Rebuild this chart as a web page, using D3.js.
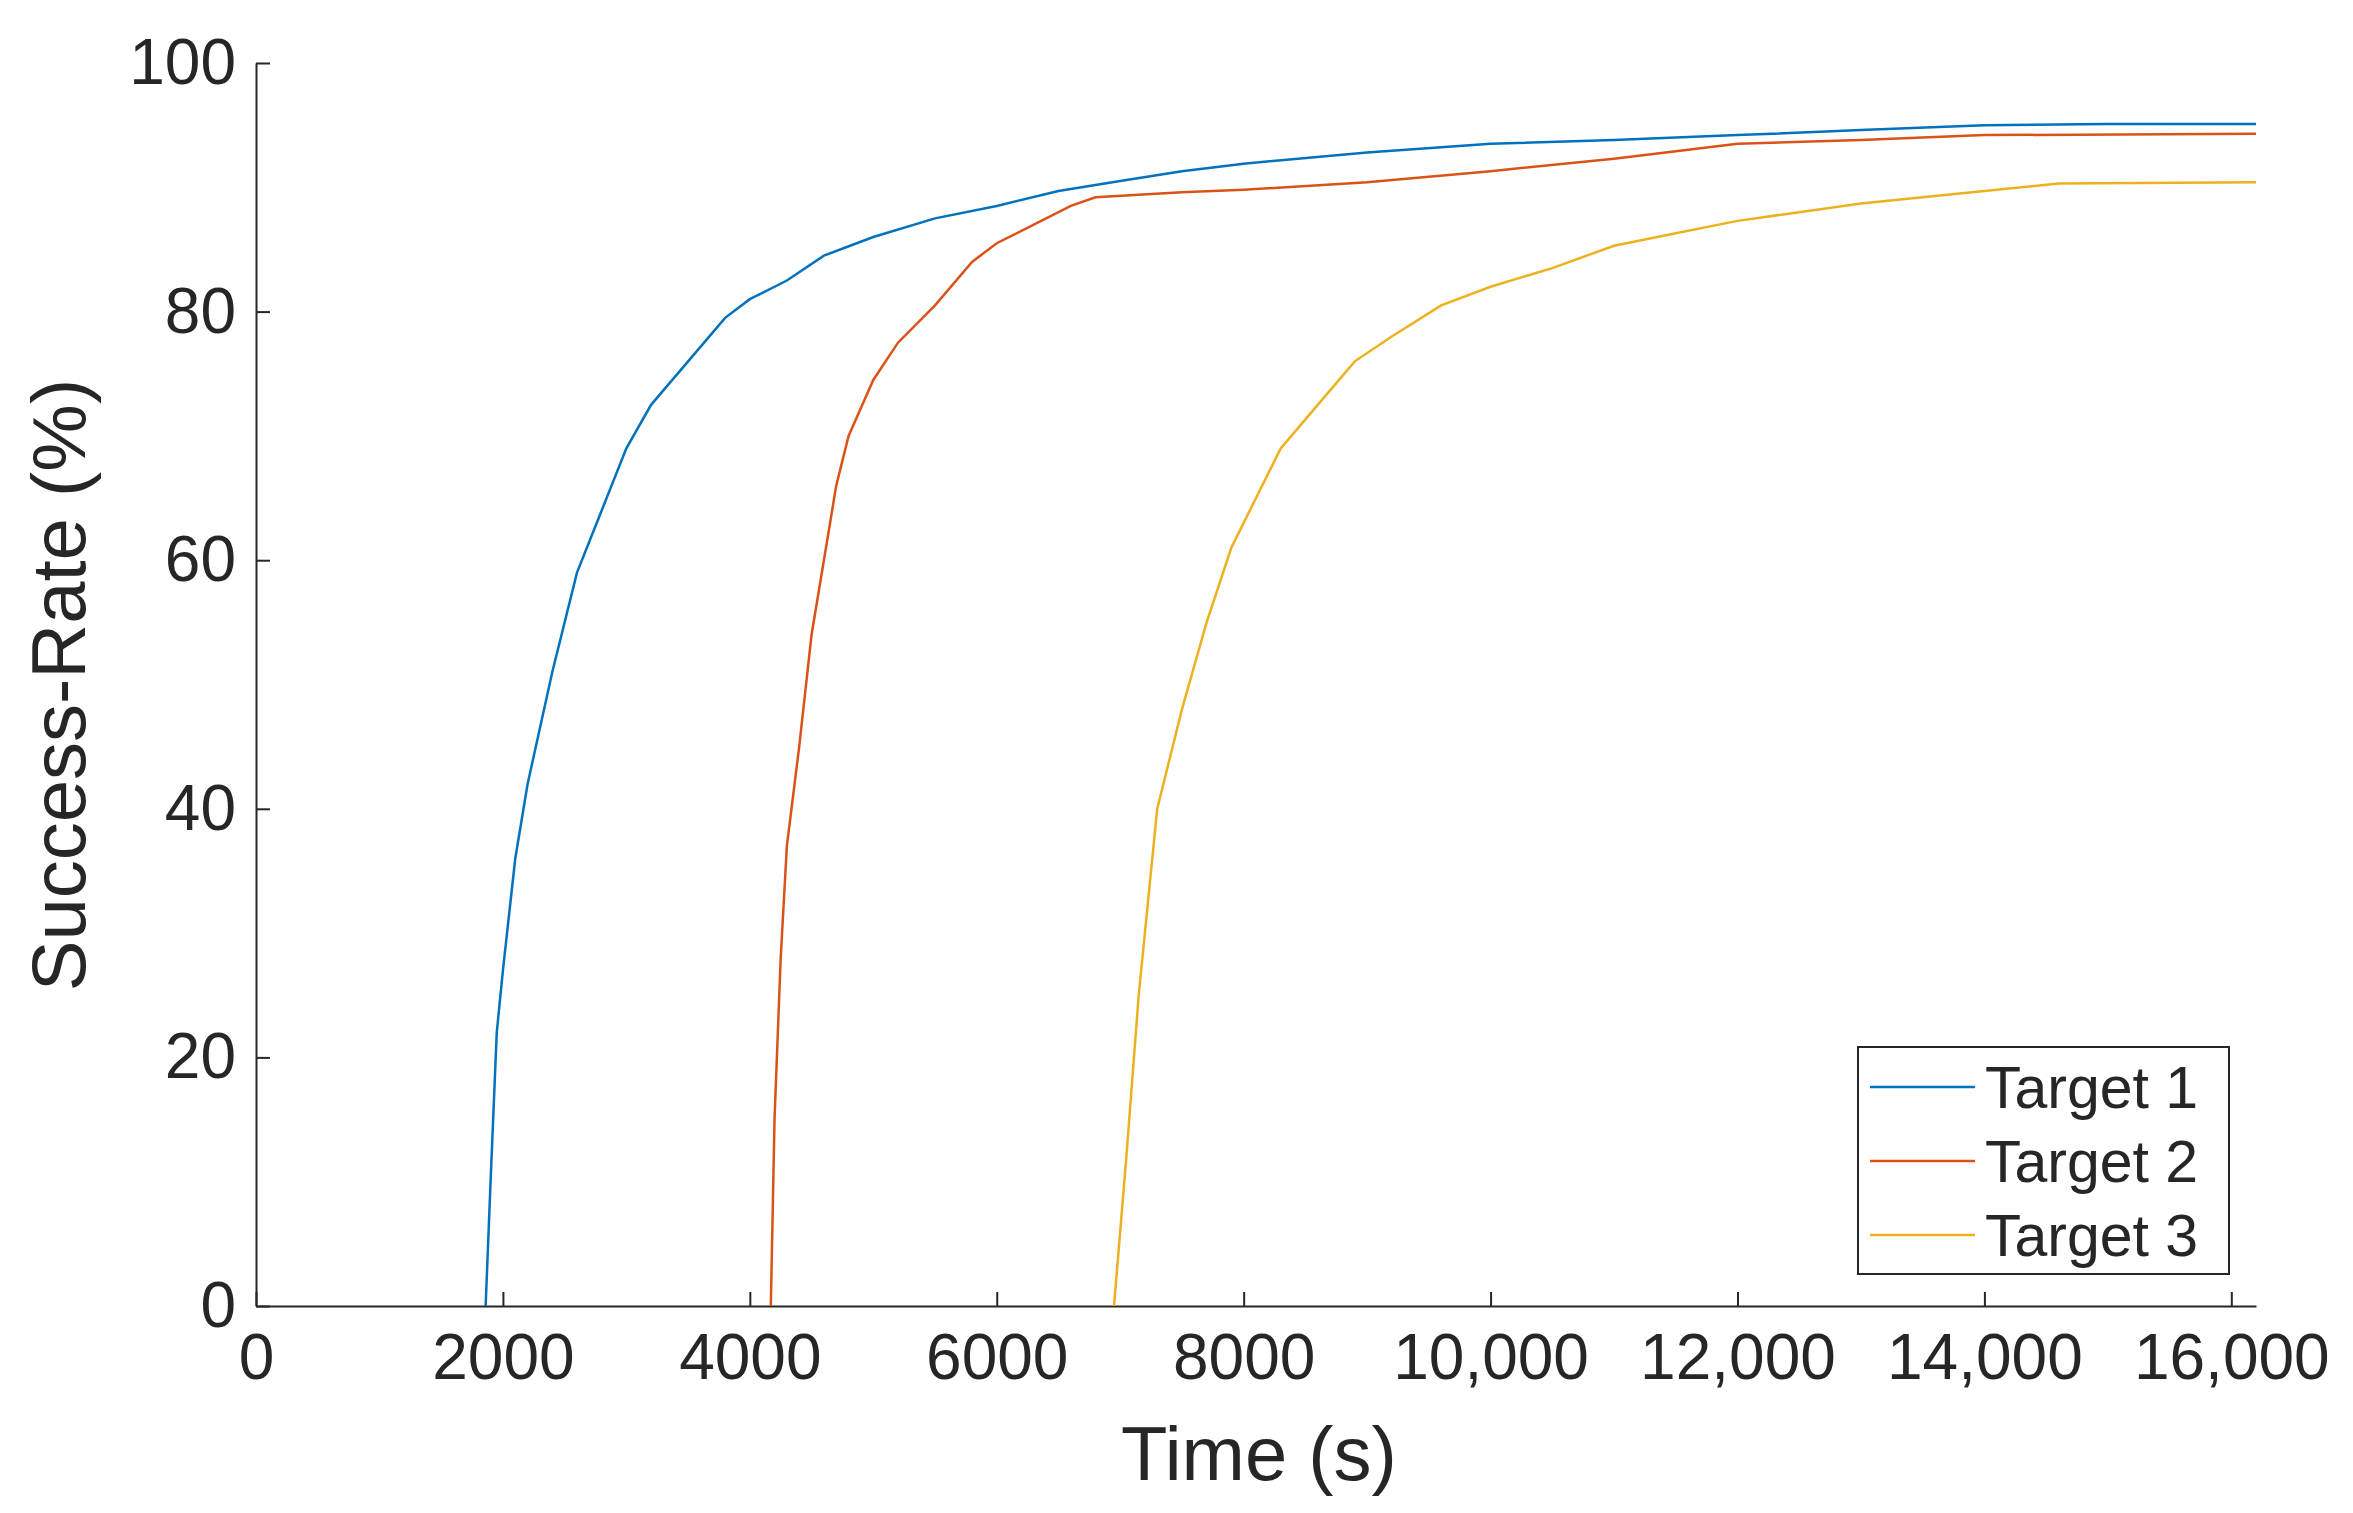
<!DOCTYPE html>
<html><head><meta charset="utf-8">
<script src="https://cdn.jsdelivr.net/npm/d3@7"></script>
<style>body{margin:0;background:#fff}</style>
</head><body><div id="chart"></div>
<script>
const xTicks = [0, 2000, 4000, 6000, 8000, 10000, 12000, 14000, 16000];
const yTicks = [0, 20, 40, 60, 80, 100];
const seriesNames = ["Target 1", "Target 2", "Target 3"];
const colors = ["#0072BD", "#D95319", "#EDB120"];

const target1 = [[1860,0],[1900,10],[1950,22],[2000,27],[2100,36],[2200,42],[2400,51],[2600,59],[2800,64],[3000,69],[3200,72.5],[3500,76],[3800,79.5],[4000,81],[4300,82.5],[4600,84.5],[5000,86],[5500,87.5],[6000,88.5],[6500,89.7],[7000,90.5],[7500,91.3],[8000,91.9],[9000,92.8],[10000,93.5],[11000,93.8],[12000,94.2],[13000,94.6],[14000,95],[15000,95.1],[16200,95.1]];
const target2 = [[4170,0],[4200,15],[4250,28],[4300,37],[4400,45],[4500,54],[4600,60],[4700,66],[4800,70],[5000,74.5],[5200,77.5],[5500,80.5],[5800,84],[6000,85.5],[6300,87],[6600,88.5],[6800,89.2],[7500,89.6],[8000,89.8],[9000,90.4],[10000,91.3],[11000,92.3],[12000,93.5],[13000,93.8],[14000,94.2],[16200,94.3]];
const target3 = [[6950,0],[7050,12],[7150,25],[7250,35],[7300,40],[7500,48],[7700,55],[7900,61],[8100,65],[8300,69],[8600,72.5],[8900,76],[9200,78],[9600,80.5],[10000,82],[10500,83.5],[11000,85.3],[11500,86.3],[12000,87.3],[13000,88.7],[14000,89.7],[14600,90.3],[16200,90.4]];
const series = [target1, target2, target3];

const width = 2353, height = 1513;
const font = "'Liberation Sans', Arial, sans-serif";

const svg = d3.select("#chart").append("svg")
    .attr("width", width).attr("height", height)
    .style("font-family", font);

const x = d3.scaleLinear().domain([0, 16200]).range([256, 2256]);
const y = d3.scaleLinear().domain([0, 100]).range([1306, 63]);

const fmt = d => d >= 10000 ? d3.format(",")(d) : String(d);

const xAxis = svg.append("g")
    .attr("transform", `translate(0,${y(0)})`)
    .call(d3.axisBottom(x).tickValues(xTicks).tickFormat(fmt).tickSizeInner(-14).tickSizeOuter(0).tickPadding(28));
const yAxis = svg.append("g")
    .attr("transform", `translate(${x(0)},0)`)
    .call(d3.axisLeft(y).tickValues(yTicks).tickSizeInner(-14).tickSizeOuter(0).tickPadding(20));

[xAxis, yAxis].forEach(g => {
    g.selectAll("path, line").attr("stroke", "#262626").attr("stroke-width", 2);
    g.selectAll("text").attr("fill", "#262626").style("font-size", "64px").style("font-family", font);
});

const line = d3.line().x(d => x(d[0])).y(d => y(d[1]));
series.forEach((s, i) => {
    svg.append("path").datum(s)
        .attr("fill", "none").attr("stroke", colors[i]).attr("stroke-width", 2.5)
        .attr("d", line);
});

svg.append("text").attr("x", 1259).attr("y", 1480).attr("text-anchor", "middle")
    .attr("fill", "#262626").style("font-size", "76px").text("Time (s)");
svg.append("text").attr("transform", "translate(85,685) rotate(-90)").attr("text-anchor", "middle")
    .attr("fill", "#262626").style("font-size", "76px").text("Success-Rate (%)");

const lg = svg.append("g");
lg.append("rect").attr("x", 1858).attr("y", 1047).attr("width", 371).attr("height", 227)
    .attr("fill", "#fff").attr("stroke", "#262626").attr("stroke-width", 2);
seriesNames.forEach((n, i) => {
    const yy = 1087 + i * 74;
    lg.append("line").attr("x1", 1870).attr("x2", 1975).attr("y1", yy).attr("y2", yy)
        .attr("stroke", colors[i]).attr("stroke-width", 2.5);
    lg.append("text").attr("x", 1985).attr("y", yy + 21).attr("fill", "#262626")
        .style("font-size", "59px").text(n);
});
</script></body></html>
